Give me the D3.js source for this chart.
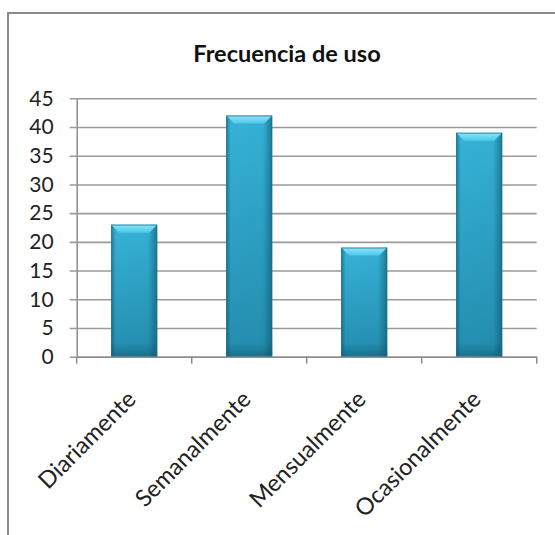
<!DOCTYPE html>
<html>
<head>
<meta charset="utf-8">
<script src="https://cdn.jsdelivr.net/npm/d3@7/dist/d3.min.js"></script>
<style>
  html, body { margin: 0; padding: 0; background: #fff; }
  svg { display: block; }
</style>
</head>
<body>
<svg id="chart" width="555" height="535"></svg>
<script>
// Usage frequency survey
const categories = ["Diariamente", "Semanalmente", "Mensualmente", "Ocasionalmente"];
const values = [23, 42, 19, 39];
const yTicks = [0, 5, 10, 15, 20, 25, 30, 35, 40, 45];
const title = "Frecuencia de uso";

const svg = d3.select("#chart");
const W = 555, H = 535;
const font = "Lato, 'Open Sans', sans-serif";

// chart frame
svg.append("rect")
  .attr("x", 8).attr("y", 13).attr("width", W + 10).attr("height", H + 10)
  .attr("fill", "#fff").attr("stroke", "#8a8a8a").attr("stroke-width", 2);

const plot = { left: 76.7, right: 536.7, top: 98.3, bottom: 356.7 };

const x = d3.scaleBand()
  .domain(categories)
  .range([plot.left, plot.right])
  .paddingInner(0.6)
  .paddingOuter(0.3);

const y = d3.scaleLinear()
  .domain([0, 45])
  .range([plot.bottom, plot.top]);

// gradients for the bevelled bars
const defs = svg.append("defs");
const gV = defs.append("linearGradient").attr("id", "barV")
  .attr("x1", 0).attr("y1", 0).attr("x2", 0).attr("y2", 1);
gV.append("stop").attr("offset", "0%").attr("stop-color", "#38b9de");
gV.append("stop").attr("offset", "100%").attr("stop-color", "#2590b2");

const gH = defs.append("linearGradient").attr("id", "barH")
  .attr("x1", 0).attr("y1", 0).attr("x2", 1).attr("y2", 0);
gH.append("stop").attr("offset", "0%").attr("stop-color", "#0b4f66").attr("stop-opacity", 0.55);
gH.append("stop").attr("offset", "10%").attr("stop-color", "#0b4f66").attr("stop-opacity", 0.05);
gH.append("stop").attr("offset", "80%").attr("stop-color", "#0b4f66").attr("stop-opacity", 0.08);
gH.append("stop").attr("offset", "100%").attr("stop-color", "#0b4f66").attr("stop-opacity", 0.6);

const gB = defs.append("linearGradient").attr("id", "barB")
  .attr("x1", 0).attr("y1", 0).attr("x2", 0).attr("y2", 1);
gB.append("stop").attr("offset", "0%").attr("stop-color", "#0b4f66").attr("stop-opacity", 0);
gB.append("stop").attr("offset", "100%").attr("stop-color", "#0b4f66").attr("stop-opacity", 0.45);

const gTop = defs.append("linearGradient").attr("id", "barTop")
  .attr("x1", 0).attr("y1", 0).attr("x2", 0).attr("y2", 1);
gTop.append("stop").attr("offset", "0%").attr("stop-color", "#8ae6f8");
gTop.append("stop").attr("offset", "100%").attr("stop-color", "#4cc8ea");

// horizontal gridlines with outside tick marks
const yAxis = d3.axisLeft(y)
  .tickValues(yTicks)
  .tickSize(-(plot.right - plot.left))
  .tickSizeOuter(0)
  .tickPadding(23)
  .tickFormat(d3.format("d"));

const gy = svg.append("g")
  .attr("transform", `translate(${plot.left},0)`)
  .call(yAxis);
gy.select(".domain").attr("stroke", "#8c8c8c").attr("stroke-width", 1.5);
gy.selectAll(".tick line")
  .attr("x1", -7)
  .attr("stroke", "#9a9a9a").attr("stroke-width", 1.6);
gy.selectAll(".tick text")
  .attr("font-family", font).attr("font-size", 21).attr("fill", "#222");

// bars
const bars = svg.append("g").selectAll("g.bar")
  .data(categories.map((c, i) => ({ c, v: values[i] })))
  .join("g").attr("class", "bar");

bars.append("rect")
  .attr("x", d => x(d.c)).attr("y", d => y(d.v))
  .attr("width", x.bandwidth()).attr("height", d => y(0) - y(d.v))
  .attr("fill", "url(#barV)");
bars.append("rect")
  .attr("x", d => x(d.c)).attr("y", d => y(d.v))
  .attr("width", x.bandwidth()).attr("height", d => y(0) - y(d.v))
  .attr("fill", "url(#barH)");
bars.append("rect")
  .attr("x", d => x(d.c)).attr("y", d => y(0) - 14)
  .attr("width", x.bandwidth()).attr("height", 14)
  .attr("fill", "url(#barB)");
// top bevel
bars.append("path")
  .attr("d", d => {
    const x0 = x(d.c), x1 = x0 + x.bandwidth(), t = y(d.v), b = 8;
    return `M${x0},${t} L${x1},${t} L${x1 - b},${t + b} L${x0 + b},${t + b} Z`;
  })
  .attr("fill", "url(#barTop)");
bars.append("rect")
  .attr("x", d => x(d.c) + 0.5).attr("y", d => y(d.v) + 0.5)
  .attr("width", x.bandwidth() - 1).attr("height", d => y(0) - y(d.v) - 1)
  .attr("fill", "none").attr("stroke", "#1d6f87").attr("stroke-width", 1).attr("stroke-opacity", 0.7);

// category axis
const xAxis = d3.axisBottom(x).tickSize(0).tickSizeOuter(0);
const gx = svg.append("g")
  .attr("transform", `translate(0,${plot.bottom})`)
  .call(xAxis);
gx.select(".domain").attr("stroke", "#8c8c8c").attr("stroke-width", 1.5);

// tick marks on category boundaries
const bounds = [plot.left].concat(categories.map(c => x(c) + x.bandwidth() / 2 + x.step() / 2));
gx.selectAll("line.sep")
  .data(bounds)
  .join("line").attr("class", "sep")
  .attr("x1", d => d).attr("x2", d => d)
  .attr("y1", 0).attr("y2", 7)
  .attr("stroke", "#8c8c8c").attr("stroke-width", 1.5);

gx.selectAll(".tick text")
  .attr("font-family", font).attr("font-size", 23.5).attr("fill", "#222")
  .attr("text-anchor", "end")
  .attr("dy", 0)
  .attr("transform", "translate(1,42) rotate(-45)");

// title
svg.append("text")
  .attr("x", 287).attr("y", 62)
  .attr("text-anchor", "middle")
  .attr("font-family", font).attr("font-weight", "bold")
  .attr("font-size", 23.5).attr("fill", "#111")
  .text(title);
</script>
</body>
</html>
